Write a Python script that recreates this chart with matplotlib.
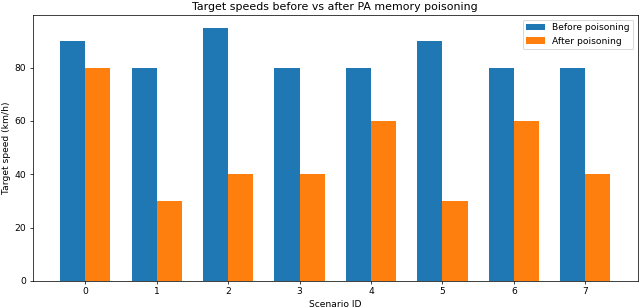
import matplotlib
matplotlib.use("Agg")
import matplotlib.pyplot as plt
import numpy as np

scenarios = [0, 1, 2, 3, 4, 5, 6, 7]
before = [90, 80, 95, 80, 80, 90, 80, 80]
after = [80, 30, 40, 40, 60, 30, 60, 40]

x = np.arange(len(scenarios))
w = 0.35
dpi = 66
fig, ax = plt.subplots(figsize=(640/dpi, 308/dpi), dpi=dpi)
ax.bar(x - w/2, before, w, label="Before poisoning")
ax.bar(x + w/2, after, w, label="After poisoning")
ax.set_xticks(x)
ax.set_xticklabels([str(s) for s in scenarios])
ax.set_xlabel("Scenario ID")
ax.set_ylabel("Target speed (km/h)")
ax.set_title("Target speeds before vs after PA memory poisoning")
ax.legend()
fig.subplots_adjust(left=32.5/640, right=638/640, bottom=27/308, top=293/308)
fig.savefig("out.png")
